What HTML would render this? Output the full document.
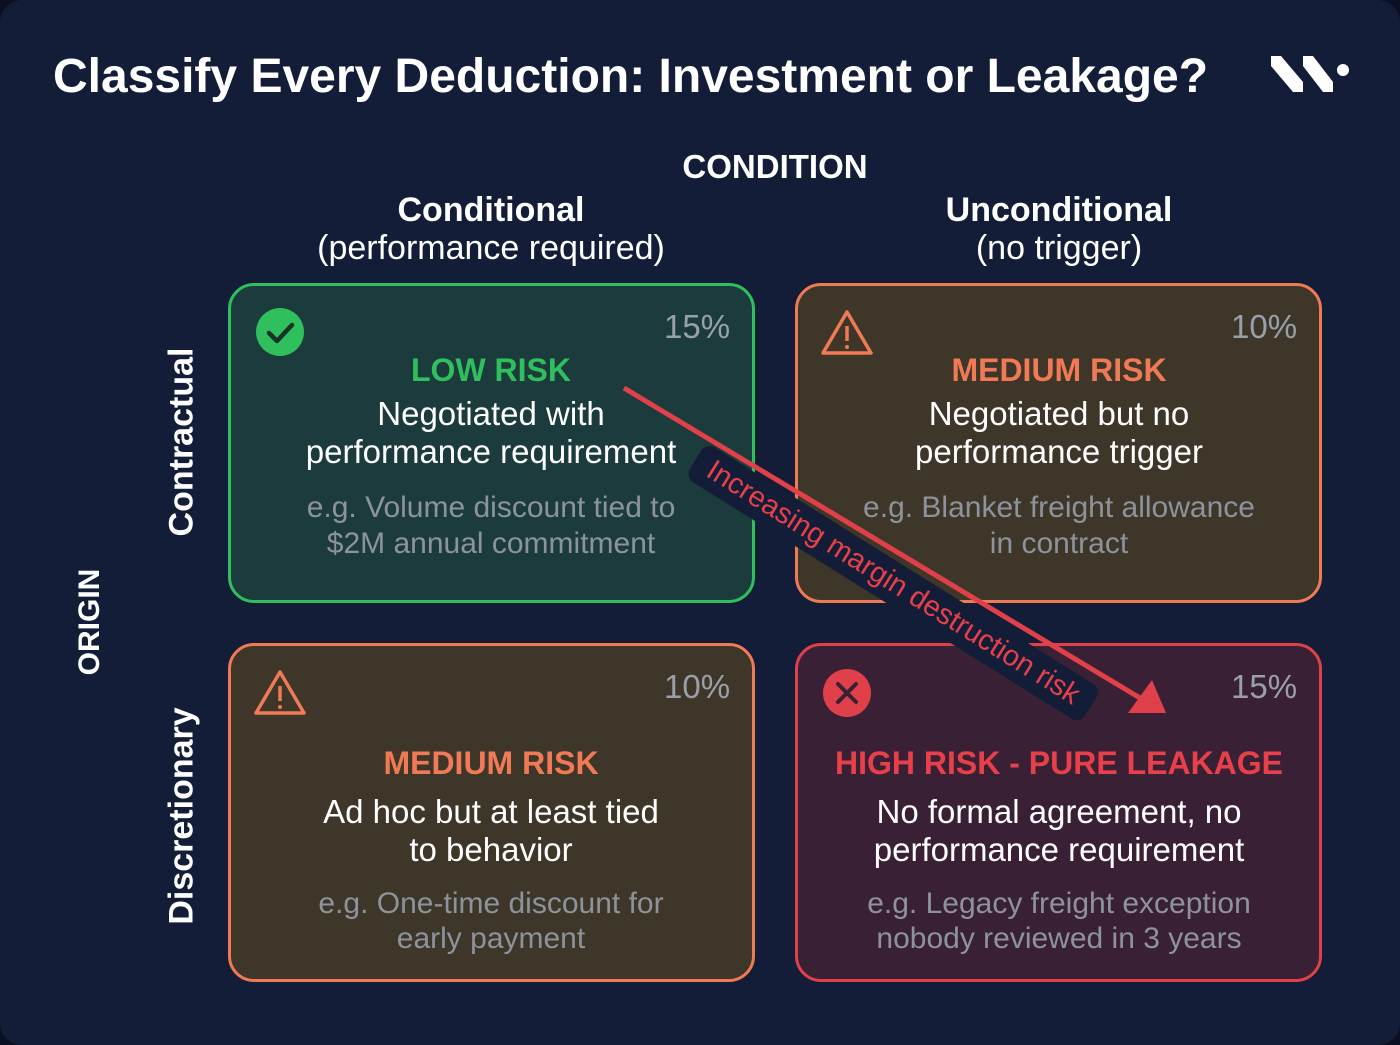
<!DOCTYPE html>
<html><head><meta charset="utf-8"><style>
*{margin:0;padding:0;box-sizing:border-box}
body{width:1400px;height:1045px;background:#0a1022;font-family:"Liberation Sans","DejaVu Sans",sans-serif;overflow:hidden;position:relative}
.bg{position:absolute;left:0;top:0;width:1400px;height:1045px;border-radius:22px;background:#131d37}
.t{position:absolute;color:#fff;white-space:nowrap}
.c{position:absolute;text-align:center;transform:translateX(-50%);white-space:nowrap}
.card{position:absolute;border-radius:26px;border:3px solid}
.pct{position:absolute;font-size:33px;color:#9aa0aa}
</style></head><body>
<div class="bg"></div>
<div class="t" style="left:53px;top:49px;font-size:48px;font-weight:bold">Classify Every Deduction: Investment or Leakage?</div>
<svg style="position:absolute;left:1265px;top:52px" width="85" height="44">
<polygon points="6,4 16,4 38,30 38,40 28,40 6,14" fill="#fff"/>
<polygon points="38,4 48,4 68,30 68,40 58,40 38,14" fill="#fff"/>
<circle cx="78" cy="18" r="6" fill="#fff"/></svg>
<div class="c" style="left:775px;top:148px;font-size:33px;font-weight:bold;color:#fff">CONDITION</div>
<div class="c" style="left:491px;top:191px;font-size:34px;color:#fff;line-height:38px"><b>Conditional</b><br>(performance required)</div>
<div class="c" style="left:1059px;top:191px;font-size:34px;color:#fff;line-height:38px"><b>Unconditional</b><br>(no trigger)</div>
<div class="t" style="left:90px;top:622px;font-size:30px;font-weight:bold;transform:translate(-50%,-50%) rotate(-90deg)">ORIGIN</div>
<div class="t" style="left:182px;top:442px;font-size:34px;font-weight:bold;transform:translate(-50%,-50%) rotate(-90deg)">Contractual</div>
<div class="t" style="left:182px;top:816px;font-size:34px;font-weight:bold;transform:translate(-50%,-50%) rotate(-90deg)">Discretionary</div>

<div class="card" style="left:228px;top:283px;width:527px;height:320px;background:#1c3b3d;border-color:#2fbf5c"></div>
<div class="card" style="left:795px;top:283px;width:527px;height:320px;background:#3e3629;border-color:#f07a55"></div>
<div class="card" style="left:228px;top:643px;width:527px;height:339px;background:#3e3629;border-color:#f07a55"></div>
<div class="card" style="left:795px;top:643px;width:527px;height:339px;background:#3a2034;border-color:#e0404a"></div>

<svg style="position:absolute;left:0;top:0" width="1400" height="1045">
<circle cx="280" cy="332" r="24" fill="#2fbf5c"/><polyline points="269,333 277,341 292,325" fill="none" stroke="#173229" stroke-width="4.5" stroke-linecap="round" stroke-linejoin="round"/>
<path d="M847,312 L871,353 L823,353 Z" fill="none" stroke="#f07a55" stroke-width="3.5" stroke-linejoin="round"/><line x1="847" y1="326" x2="847" y2="341" stroke="#f07a55" stroke-width="3.5"/><circle cx="847" cy="347" r="2" fill="#f07a55"/>
<path d="M280,672 L304,713 L256,713 Z" fill="none" stroke="#f07a55" stroke-width="3.5" stroke-linejoin="round"/><line x1="280" y1="686" x2="280" y2="701" stroke="#f07a55" stroke-width="3.5"/><circle cx="280" cy="707" r="2" fill="#f07a55"/>
<circle cx="847" cy="693" r="24" fill="#e0404a"/><path d="M838,684 L856,702 M856,684 L838,702" stroke="#3a2034" stroke-width="4" stroke-linecap="round"/>
</svg>

<div class="pct" style="left:664px;top:308px">15%</div>
<div class="pct" style="left:1231px;top:308px">10%</div>
<div class="pct" style="left:664px;top:668px">10%</div>
<div class="pct" style="left:1231px;top:668px">15%</div>

<div class="c" style="left:491px;top:352px;font-size:32px;font-weight:bold;color:#2fbf5c">LOW RISK</div>
<div class="c" style="left:491px;top:395px;font-size:33px;color:#fff;line-height:38px">Negotiated with<br>performance requirement</div>
<div class="c" style="left:491px;top:490px;font-size:30px;color:#8d939c;line-height:36px">e.g. Volume discount tied to<br>$2M annual commitment</div>

<div class="c" style="left:1059px;top:352px;font-size:32px;font-weight:bold;color:#f07a55">MEDIUM RISK</div>
<div class="c" style="left:1059px;top:395px;font-size:33px;color:#fff;line-height:38px">Negotiated but no<br>performance trigger</div>
<div class="c" style="left:1059px;top:490px;font-size:30px;color:#8d939c;line-height:36px">e.g. Blanket freight allowance<br>in contract</div>

<div class="c" style="left:491px;top:745px;font-size:32px;font-weight:bold;color:#f07a55">MEDIUM RISK</div>
<div class="c" style="left:491px;top:793px;font-size:33px;color:#fff;line-height:38px">Ad hoc but at least tied<br>to behavior</div>
<div class="c" style="left:491px;top:886px;font-size:30px;color:#8d939c;line-height:35px">e.g. One-time discount for<br>early payment</div>

<div class="c" style="left:1059px;top:745px;font-size:32px;font-weight:bold;color:#e8404a">HIGH RISK - PURE LEAKAGE</div>
<div class="c" style="left:1059px;top:793px;font-size:33px;color:#fff;line-height:38px">No formal agreement, no<br>performance requirement</div>
<div class="c" style="left:1059px;top:886px;font-size:30px;color:#8d939c;line-height:35px">e.g. Legacy freight exception<br>nobody reviewed in 3 years</div>

<div class="t" style="left:893px;top:583px;transform:translate(-50%,-50%) rotate(32deg);background:#141d38;border-radius:10px;padding:4px 16px;font-size:29px;color:#e8404a">Increasing margin destruction risk</div>
<svg style="position:absolute;left:0;top:0" width="1400" height="1045">
<line x1="624" y1="388" x2="1140" y2="698" stroke="#e0404a" stroke-width="5"/>
<polygon points="1166,713 1128,713 1152,680" fill="#e0404a"/>
</svg>
</body></html>
